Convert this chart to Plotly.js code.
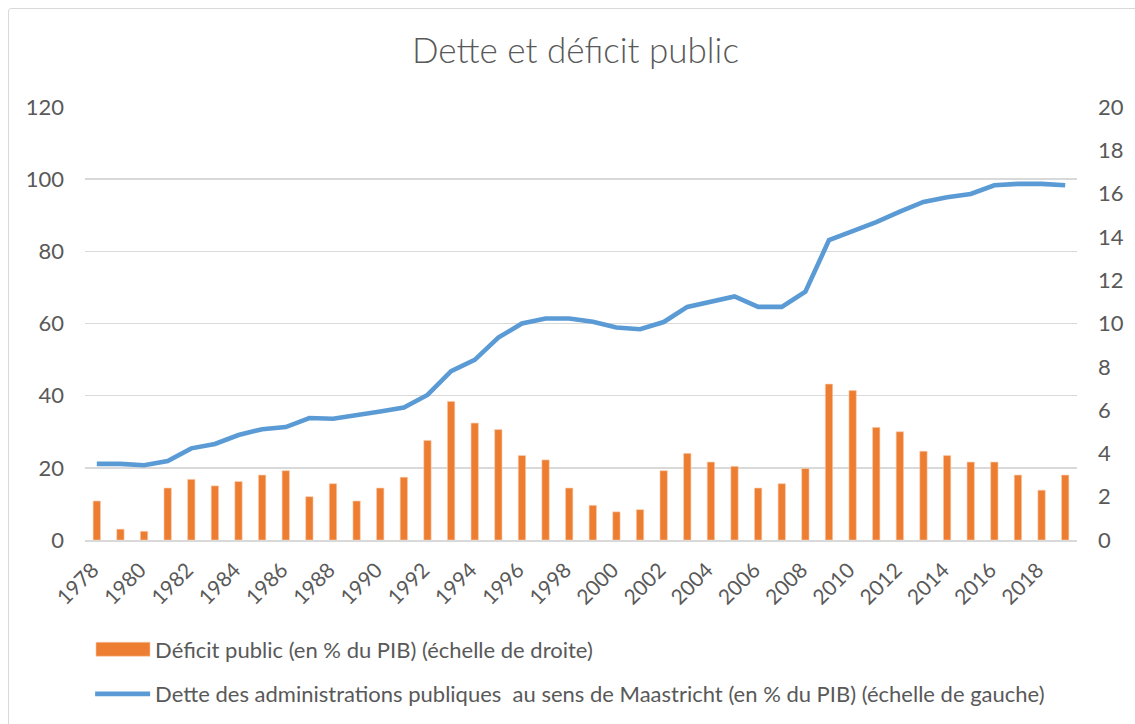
<!DOCTYPE html>
<html>
<head>
<meta charset="utf-8">
<script src="https://cdn.plot.ly/plotly-3.0.1.min.js"></script>
<style>
html,body{margin:0;padding:0;background:#fff;}
#frame{position:absolute;left:8px;top:8px;width:1140px;height:730px;border:1.5px solid #d9d9d9;border-radius:3px;pointer-events:none;}
#chart{position:absolute;left:0;top:0;width:1135px;height:724px;}
</style>
</head>
<body>
<div id="chart"></div>
<div id="frame"></div>
<script>
const years = [1978,1979,1980,1981,1982,1983,1984,1985,1986,1987,1988,1989,1990,1991,1992,1993,1994,1995,1996,1997,1998,1999,2000,2001,2002,2003,2004,2005,2006,2007,2008,2009,2010,2011,2012,2013,2014,2015,2016,2017,2018,2019];
const deficit = [1.8,0.5,0.4,2.4,2.8,2.5,2.7,3.0,3.2,2.0,2.6,1.8,2.4,2.9,4.6,6.4,5.4,5.1,3.9,3.7,2.4,1.6,1.3,1.4,3.2,4.0,3.6,3.4,2.4,2.6,3.3,7.2,6.9,5.2,5.0,4.1,3.9,3.6,3.6,3.0,2.3,3.0];
const dette = [21.1,21.1,20.7,21.9,25.4,26.6,29.1,30.7,31.3,33.8,33.6,34.5,35.6,36.7,40.2,46.8,49.9,56.1,60.0,61.4,61.4,60.5,58.9,58.4,60.4,64.6,66.0,67.5,64.6,64.6,68.8,83.1,85.6,88.1,91.0,93.7,95.0,95.9,98.3,98.7,98.7,98.3];
const xTicks = [1978,1980,1982,1984,1986,1988,1990,1992,1994,1996,1998,2000,2002,2004,2006,2008,2010,2012,2014,2016,2018];
const leftTicks = [0,20,40,60,80,100,120];
const rightTicks = [0,2,4,6,8,10,12,14,16,18,20];
const nameDeficit = "Déficit public (en % du PIB) (échelle de droite)";
const nameDette = "Dette des administrations publiques  au sens de Maastricht (en % du PIB) (échelle de gauche)";

const txt = '#595959';
const fnt = {family: 'Lato, "Open Sans", sans-serif', size: 22, color: txt};
const xfnt = {family: 'Lato, "Open Sans", sans-serif', size: 21, color: txt};

const data = [
  {type:'bar', x: years, y: deficit, yaxis:'y2', name: nameDeficit, legendgroup:'a',
   width: 0.31, marker:{color:'#ED7D31', line:{color:'#F8CBAD', width:0.6}}},
  {type:'scatter', mode:'lines', x: years, y: dette, yaxis:'y', name: nameDette, legendgroup:'b',
   line:{color:'#5B9BD5', width:4.6}}
];

const layout = {
  width:1135, height:724,
  margin:{l:85, r:58, t:107, b:184, autoexpand:false},
  paper_bgcolor:'rgba(0,0,0,0)', plot_bgcolor:'#fff',
  font: fnt,
  title:{text:'Dette et déficit public', font:{family:'Lato, sans-serif', size:35, color:txt, weight:300},
         xref:'container', x:0.507, xanchor:'center', yref:'container', y:0.93, yanchor:'middle'},
  showlegend:true,
  legend:{orientation:'v', xref:'container', yref:'container', x:0.0794, y:0.132, xanchor:'left', yanchor:'top',
          traceorder:'grouped', tracegroupgap:13, itemwidth:55, font:fnt, bgcolor:'rgba(0,0,0,0)'},
  bargap:0,
  xaxis:{type:'linear', range:[1977.5,2019.5], tickmode:'array', tickvals:xTicks, ticktext:xTicks.map(String),
         tickangle:-45, showgrid:false, zeroline:false, showline:true, linecolor:'#d9d9d9', linewidth:1.5,
         ticks:'', tickfont:xfnt, ticklabelstandoff:8, ticklabelshift:-4, fixedrange:true},
  yaxis:{range:[0,120], tickmode:'array', tickvals:leftTicks, showgrid:true, gridcolor:'#d9d9d9', gridwidth:1.5,
         zeroline:false, showline:false, ticks:'', tickfont:fnt, ticklabelstandoff:20},
  yaxis2:{range:[0,20], tickmode:'array', tickvals:rightTicks, overlaying:'y', side:'right', showgrid:false,
          zeroline:false, showline:false, ticks:'', tickfont:fnt, ticklabelstandoff:20}
};

Plotly.newPlot('chart', data, layout, {displayModeBar:false, staticPlot:true}).then(function(gd){
  // widen legend symbols to resemble the reference (absolute page x: 96..150)
  const items = gd.querySelectorAll('.legend .traces');
  items.forEach(function(it, i){
    const paths = it.querySelectorAll('.legendpoints path');
    paths.forEach(function(p){
      p.removeAttribute('transform');
      const m = p.getCTM();
      const ox = m ? m.e : 0;
      const x0 = 96 - ox, x1 = 150 - ox;
      if (i === 0) {
        p.setAttribute('d', 'M' + x0 + ',7H' + x1 + 'V-7H' + x0 + 'Z');
      } else {
        p.setAttribute('d', 'M' + x0 + ',0H' + (x1 + 1));
      }
    });
  });
  const clips = gd.querySelectorAll('.legend .scrollbox');
  clips.forEach(function(c){ c.removeAttribute('clip-path'); });
});
</script>
</body>
</html>
